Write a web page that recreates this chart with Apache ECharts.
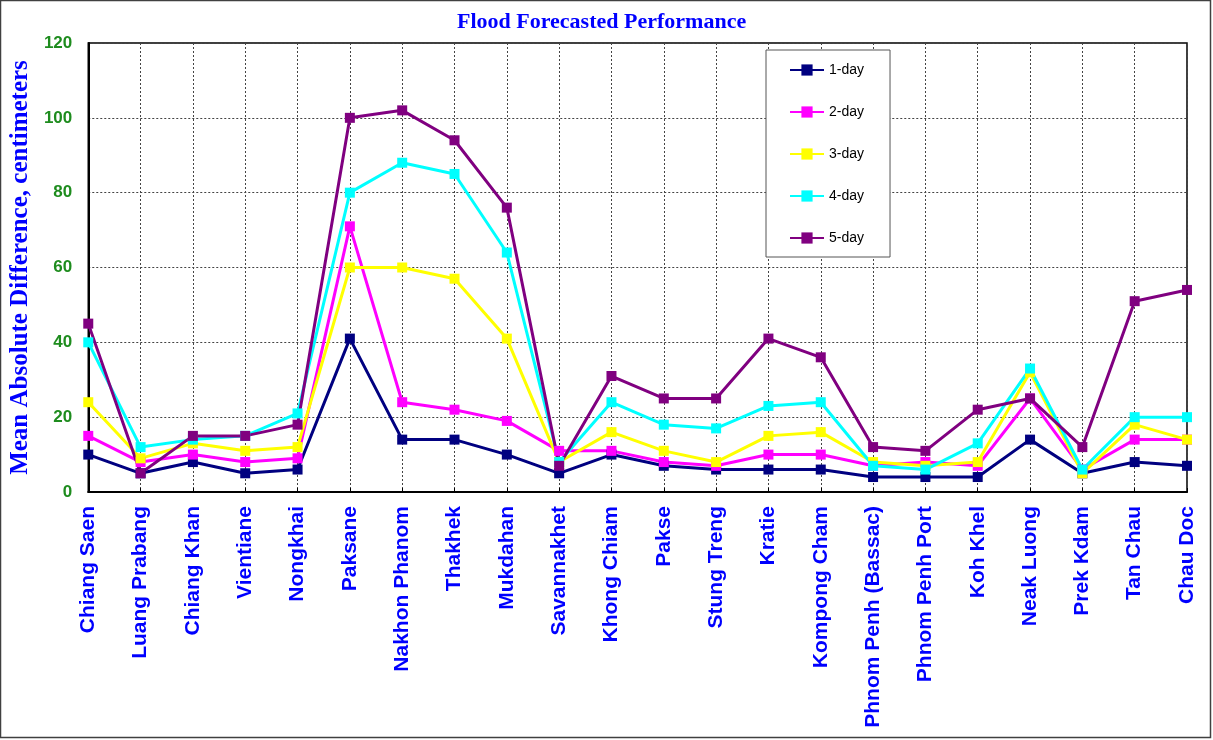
<!DOCTYPE html>
<html>
<head>
<meta charset="utf-8">
<script src="https://cdn.jsdelivr.net/npm/echarts@6/dist/echarts.min.js"></script>
<style>
  html, body { margin: 0; padding: 0; background: #fff; }
  #chart { width: 1213px; height: 740px; }
</style>
</head>
<body>
<div id="chart"></div>
<script>
const stations = [
  'Chiang Saen', 'Luang Prabang', 'Chiang Khan', 'Vientiane', 'Nongkhai',
  'Paksane', 'Nakhon Phanom', 'Thakhek', 'Mukdahan', 'Savannakhet',
  'Khong Chiam', 'Pakse', 'Stung Treng', 'Kratie', 'Kompong Cham',
  'Phnom Penh (Bassac)', 'Phnom Penh Port', 'Koh Khel', 'Neak Luong',
  'Prek Kdam', 'Tan Chau', 'Chau Doc'
]
const day1 = [10, 5, 8, 5, 6, 41, 14, 14, 10, 5, 10, 7, 6, 6, 6, 4, 4, 4, 14, 5, 8, 7]
const day2 = [15, 8, 10, 8, 9, 71, 24, 22, 19, 11, 11, 8, 7, 10, 10, 7, 8, 7, 25, 6, 14, 14]
const day3 = [24, 9, 13, 11, 12, 60, 60, 57, 41, 8, 16, 11, 8, 15, 16, 8, 7, 8, 32, 5, 18, 14]
const day4 = [40, 12, 14, 15, 21, 80, 88, 85, 64, 8, 24, 18, 17, 23, 24, 7, 6, 13, 33, 6, 20, 20]
const day5 = [45, 5, 15, 15, 18, 100, 102, 94, 76, 7, 31, 25, 25, 41, 36, 12, 11, 22, 25, 12, 51, 54]

const seriesNames = ['1-day', '2-day', '3-day', '4-day', '5-day']
const seriesData = [day1, day2, day3, day4, day5]
const seriesColors = ['#000080', '#FF00FF', '#FFFF00', '#00FFFF', '#800080']

const chart = echarts.init(document.getElementById('chart'))

const gridLine = { show: true, lineStyle: { color: '#444', width: 1, type: [2, 2] } }

chart.setOption({
  backgroundColor: '#fff',
  animation: false,
  title: {
    text: 'Flood Forecasted Performance',
    left: 452,
    top: 6,
    textStyle: {
      fontFamily: '"Liberation Serif", "Times New Roman", serif',
      fontWeight: 'bold',
      fontSize: 22,
      color: '#0000FF'
    }
  },
  legend: {
    orient: 'vertical',
    left: 766,
    top: 50,
    padding: [13, 26, 12, 23],
    itemWidth: 34,
    itemHeight: 14,
    itemGap: 28,
    backgroundColor: '#fff',
    borderColor: '#555',
    borderWidth: 1,
    borderRadius: 0,
    textStyle: {
      fontFamily: '"Liberation Sans", Arial, sans-serif',
      fontSize: 14,
      lineHeight: 14,
      color: '#000'
    },
    data: seriesNames
  },
  grid: {
    left: 88,
    right: 26,
    top: 43,
    bottom: 248,
    show: true,
    borderColor: '#000',
    borderWidth: 1.5
  },
  xAxis: {
    type: 'category',
    data: stations,
    boundaryGap: false,
    axisLine: { lineStyle: { color: '#000', width: 2 } },
    axisTick: { show: true, inside: true, length: 4, lineStyle: { color: '#000' } },
    splitLine: gridLine,
    axisLabel: {
      interval: 0,
      rotate: 90,
      margin: 14,
      color: '#0000FF',
      fontFamily: '"Liberation Sans", Arial, sans-serif',
      fontWeight: 'bold',
      fontSize: 21
    }
  },
  yAxis: {
    type: 'value',
    min: 0,
    max: 120,
    interval: 20,
    name: 'Mean Absolute Difference, centimeters',
    nameLocation: 'middle',
    nameGap: 51,
    nameRotate: 90,
    nameTextStyle: {
      fontFamily: '"Liberation Serif", "Times New Roman", serif',
      fontWeight: 'bold',
      fontSize: 25,
      color: '#0000FF'
    },
    axisLine: { show: true, lineStyle: { color: '#000', width: 2 } },
    axisTick: { show: false },
    splitLine: gridLine,
    axisLabel: {
      margin: 16,
      color: '#1E8C1E',
      fontFamily: '"Liberation Sans", Arial, sans-serif',
      fontWeight: 'bold',
      fontSize: 17
    }
  },
  graphic: [{
    type: 'rect',
    shape: { x: 0.5, y: 0.5, width: 1210, height: 737 },
    style: { fill: 'none', stroke: '#404040', lineWidth: 1.5 },
    silent: true,
    z: -1
  }],
  series: seriesNames.map((name, i) => ({
    name,
    type: 'line',
    data: seriesData[i],
    symbol: 'rect',
    symbolSize: 10,
    color: seriesColors[i],
    lineStyle: { width: 3, color: seriesColors[i] },
    itemStyle: { color: seriesColors[i] }
  }))
})
</script>
</body>
</html>
